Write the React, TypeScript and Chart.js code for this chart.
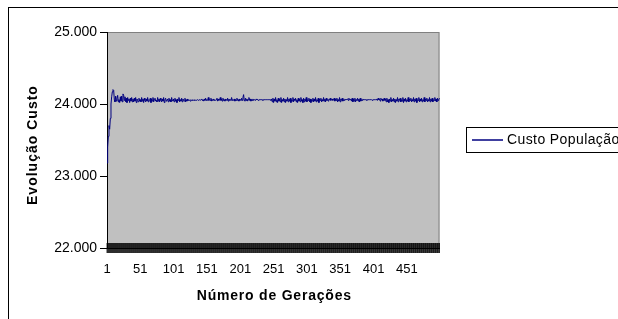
import React, { useEffect, useRef } from 'react';
import { Chart, registerables } from 'chart.js';

Chart.register(...registerables);

// ---- data ----
const generations: string[] = Array.from({ length: 500 }, (_, i) => String(i + 1));
const xTickLabels: string[] = ['1', '51', '101', '151', '201', '251', '301', '351', '401', '451'];
const yTicks: number[] = [22000, 23000, 24000, 25000];
const seriesName = 'Custo População';
const yTitle = 'Evolução Custo';
const xTitle = 'Número de Gerações';

const custoPopulacao: number[] = [
  23180, 23400, 23550, 23700, 23650, 23800, 24000, 24100, 24170, 24200, 24190, 24060, 24030, 24110, 24040, 24080, 24120, 24030, 24060, 24020,
  24100, 24040, 24110, 24030, 24140, 24120, 24050, 24100, 24030, 24080, 24020, 24090, 24050, 24070, 24020, 24080, 24040, 24090, 24030, 24070,
  24030, 24080, 24040, 24090, 24020, 24070, 24050, 24030, 24080, 24040, 24060, 24030, 24090, 24040, 24070, 24020, 24080, 24050, 24030, 24070,
  24040, 24090, 24030, 24060, 24050, 24080, 24020, 24070, 24040, 24090, 24030, 24060, 24080, 24040, 24050, 24030, 24090, 24040, 24070, 24030,
  24080, 24050, 24030, 24070, 24040, 24090, 24020, 24060, 24080, 24040, 24050, 24070, 24030, 24080, 24040, 24060, 24030, 24090, 24050, 24040,
  24070, 24030, 24080, 24040, 24060, 24020, 24070, 24050, 24090, 24030, 24060, 24040, 24080, 24030, 24070, 24050, 24040, 24080, 24030, 24060,
  24040, 24070, 24050, 24060, 24050, 24040, 24060, 24050, 24050, 24060, 24050, 24050, 24060, 24050, 24050, 24050, 24060, 24050, 24050, 24060,
  24050, 24050, 24070, 24050, 24060, 24040, 24070, 24050, 24080, 24050, 24060, 24050, 24090, 24050, 24060, 24050, 24080, 24040, 24060, 24050,
  24070, 24050, 24060, 24050, 24060, 24080, 24040, 24070, 24050, 24060, 24090, 24050, 24070, 24040, 24080, 24050, 24060, 24040, 24070, 24060,
  24050, 24080, 24040, 24070, 24050, 24060, 24050, 24090, 24050, 24060, 24050, 24070, 24040, 24060, 24050, 24080, 24050, 24060, 24040, 24070,
  24060, 24050, 24080, 24050, 24090, 24130, 24050, 24040, 24080, 24050, 24070, 24040, 24060, 24090, 24050, 24070, 24040, 24060, 24050, 24070,
  24050, 24060, 24060, 24050, 24070, 24060, 24060, 24050, 24060, 24060, 24060, 24060, 24060, 24060, 24050, 24060, 24060, 24060, 24060, 24060,
  24060, 24060, 24060, 24060, 24060, 24060, 24050, 24070, 24030, 24080, 24020, 24070, 24040, 24090, 24030, 24060, 24020, 24080, 24040, 24070,
  24030, 24090, 24020, 24060, 24040, 24080, 24030, 24070, 24020, 24060, 24040, 24090, 24030, 24070, 24040, 24080, 24020, 24060, 24040, 24090,
  24030, 24070, 24050, 24080, 24030, 24060, 24020, 24080, 24040, 24070, 24030, 24090, 24040, 24060, 24020, 24080, 24030, 24070, 24040, 24090,
  24030, 24060, 24050, 24080, 24030, 24070, 24020, 24060, 24040, 24080, 24030, 24070, 24040, 24090, 24030, 24060, 24040, 24080, 24020, 24070,
  24050, 24080, 24030, 24060, 24040, 24090, 24040, 24070, 24030, 24080, 24050, 24060, 24040, 24070, 24060, 24080, 24050, 24060, 24070, 24050,
  24060, 24080, 24040, 24070, 24050, 24080, 24030, 24060, 24040, 24090, 24030, 24070, 24050, 24080, 24040, 24060, 24050, 24070, 24060, 24060,
  24060, 24070, 24050, 24080, 24060, 24060, 24070, 24040, 24080, 24030, 24070, 24040, 24080, 24030, 24060, 24050, 24080, 24040, 24070, 24030,
  24080, 24040, 24060, 24050, 24070, 24060, 24060, 24060, 24060, 24060, 24050, 24060, 24060, 24060, 24060, 24060, 24060, 24060, 24050, 24060,
  24060, 24060, 24060, 24060, 24060, 24070, 24050, 24080, 24060, 24070, 24040, 24080, 24060, 24070, 24040, 24060, 24080, 24050, 24070, 24030,
  24080, 24030, 24060, 24020, 24070, 24040, 24090, 24030, 24060, 24040, 24080, 24030, 24070, 24020, 24060, 24040, 24090, 24030, 24070, 24050,
  24080, 24030, 24060, 24040, 24090, 24020, 24070, 24040, 24080, 24030, 24060, 24040, 24090, 24030, 24070, 24050, 24080, 24030, 24060, 24040,
  24090, 24030, 24070, 24040, 24080, 24020, 24060, 24050, 24090, 24030, 24070, 24040, 24080, 24030, 24060, 24040, 24090, 24030, 24070, 24050,
  24080, 24030, 24060, 24040, 24090, 24030, 24070, 24040, 24080, 24030, 24060, 24050, 24090, 24040, 24070, 24030, 24080, 24050, 24060, 24080,
];

const FONT = '"Liberation Sans", Arial, sans-serif';
const LINE_COLOR = '#000080';

function fmtThousands(v: number): string {
  const s = String(Math.round(v));
  return s.replace(/\B(?=(\d{3})+(?!\d))/g, '.');
}

function drawSpaced(ctx: CanvasRenderingContext2D, text: string, cx: number, cy: number, target: number, rotate: boolean, font: string) {
  ctx.save();
  ctx.translate(cx, cy);
  if (rotate) ctx.rotate(-Math.PI / 2);
  ctx.font = font;
  (ctx as any).letterSpacing = '0px';
  const w = ctx.measureText(text).width;
  const sp = Math.max(0, (target - w) / text.length);
  (ctx as any).letterSpacing = sp.toFixed(2) + 'px';
  ctx.textAlign = 'left';
  ctx.textBaseline = 'middle';
  ctx.fillStyle = '#000';
  ctx.fillText(text, -target / 2, 0);
  ctx.restore();
}

const excelLook = {
  id: 'excelLook',
  beforeDraw(chart: any) {
    const { ctx, chartArea: a } = chart;
    ctx.save();
    ctx.fillStyle = '#c0c0c0';
    ctx.fillRect(a.left, a.top, a.right - a.left, a.bottom - a.top);
    ctx.strokeStyle = '#808080';
    ctx.lineWidth = 1;
    ctx.strokeRect(a.left + 0.5, a.top + 0.5, a.right - a.left - 1, a.bottom - a.top);
    ctx.restore();
  },
  afterDraw(chart: any) {
    const { ctx, chartArea: a } = chart;
    const x = chart.scales.x;
    ctx.save();
    // dense category tick marks crossing the x axis
    ctx.strokeStyle = '#000';
    ctx.lineWidth = 0.8;
    ctx.beginPath();
    for (let i = 0; i < generations.length; i++) {
      const px = x.getPixelForValue(i);
      ctx.moveTo(px, a.bottom - 5);
      ctx.lineTo(px, a.bottom + 5);
    }
    ctx.stroke();
    ctx.restore();

    // axis titles
    drawSpaced(ctx, yTitle, 24, 137, 120, true, `bold 14px ${FONT}`);
    drawSpaced(ctx, xTitle, (a.left + a.right) / 2 + 1, 288, 155, false, `bold 14px ${FONT}`);

    // legend (clipped by the canvas edge, as in the reference)
    ctx.save();
    ctx.strokeStyle = '#000';
    ctx.lineWidth = 1;
    ctx.strokeRect(457.5, 119.5, 200, 25);
    ctx.strokeStyle = LINE_COLOR;
    ctx.lineWidth = 1.5;
    ctx.beginPath();
    ctx.moveTo(463, 132);
    ctx.lineTo(494, 132);
    ctx.stroke();
    ctx.font = `14px ${FONT}`;
    (ctx as any).letterSpacing = '0.4px';
    ctx.fillStyle = '#000';
    ctx.textAlign = 'left';
    ctx.textBaseline = 'middle';
    ctx.fillText(seriesName, 498, 132);
    ctx.restore();
  },
};

export default function App() {
  const ref = useRef<HTMLCanvasElement | null>(null);

  useEffect(() => {
    if (!ref.current) return;
    const chart = new Chart(ref.current, {
      type: 'line',
      data: {
        labels: generations,
        datasets: [
          {
            label: seriesName,
            data: custoPopulacao,
            borderColor: LINE_COLOR,
            backgroundColor: LINE_COLOR,
            borderWidth: 1,
            pointRadius: 0,
            tension: 0,
            fill: false,
          },
        ],
      },
      options: {
        responsive: false,
        animation: false,
        events: [],
        layout: { padding: { left: 0, top: 24, right: 178.5, bottom: 31 } },
        plugins: {
          legend: { display: false },
          title: { display: false },
          tooltip: { enabled: false },
        },
        scales: {
          x: {
            type: 'category',
            offset: false,
            grid: { display: false, drawTicks: false },
            border: { display: true, color: '#000', width: 1 },
            ticks: {
              autoSkip: false,
              maxRotation: 0,
              minRotation: 0,
              padding: 14,
              color: '#000',
              font: { family: FONT, size: 13 },
              callback: (_v: any, index: number) => {
                const l = generations[index];
                return xTickLabels.includes(l) ? l : null;
              },
            },
            afterFit: (s: any) => {
              s.height = 40;
            },
          },
          y: {
            min: yTicks[0],
            max: yTicks[yTicks.length - 1],
            grid: { drawOnChartArea: false, drawTicks: true, tickLength: 7, color: '#000' },
            border: { display: true, color: '#000', width: 1 },
            afterBuildTicks: (s: any) => {
              s.ticks = yTicks.map((v) => ({ value: v }));
            },
            ticks: {
              padding: 3,
              color: '#000',
              font: { family: FONT, size: 14 },
              callback: (v: any) => fmtThousands(Number(v)),
            },
            afterFit: (s: any) => {
              s.width = 98;
            },
          },
        },
      },
      plugins: [excelLook],
    });
    return () => chart.destroy();
  }, []);

  return (
    <div
      style={{
        position: 'absolute',
        left: 8,
        top: 7,
        width: 610,
        height: 312,
        borderLeft: '1px solid #000',
        borderTop: '1px solid #000',
        boxSizing: 'border-box',
        overflow: 'hidden',
      }}
    >
      <canvas ref={ref} width={609} height={311} style={{ display: 'block', width: 609, height: 311 }} />
    </div>
  );
}
